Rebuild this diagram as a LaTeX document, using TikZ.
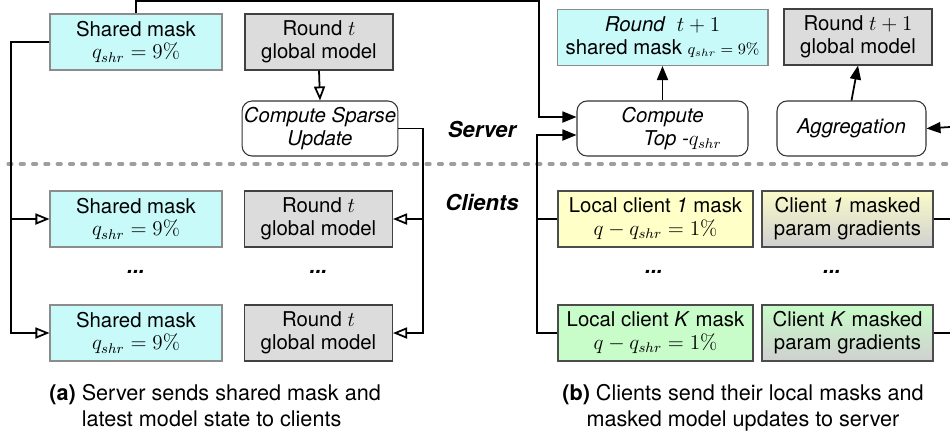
\documentclass[tikz,border=0pt]{standalone}
\usepackage[no-math]{fontspec}
\setmainfont{TeX Gyre Heros}
\usetikzlibrary{arrows.meta}
\definecolor{maskcyan}{HTML}{C8FAFA}
\definecolor{modelgray}{HTML}{DCDCDC}
\definecolor{localyellow}{HTML}{FFFFC8}
\definecolor{localgreen}{HTML}{C8FCC8}
\definecolor{gradgray}{HTML}{D0D0D0}
\begin{document}
\begin{tikzpicture}[x=0.02cm,y=-0.02cm,
    font=\fontsize{11.6}{13}\selectfont,
    box/.style={draw,line width=0.6pt,align=center,inner sep=1pt,minimum height=1.12cm},
    shared/.style={box,draw=black!45,fill=maskcyan,minimum width=3.44cm},
    model/.style={box,draw=black!75,fill=modelgray,minimum width=2.96cm},
    op/.style={box,draw=black!80,fill=white,rounded corners=0.2cm,minimum height=1.1cm,font=\fontsize{11.6}{13}\selectfont\itshape},
    localmask/.style={box,draw=black!70,minimum width=3.9cm},
    grads/.style={box,draw=black!70,minimum width=3.42cm,bottom color=gradgray},
    link/.style={line width=1pt},
    openhead/.style={link,-{Triangle[open,length=0.28cm,width=0.22cm]}},
    fullhead/.style={link,-{Triangle[length=0.28cm,width=0.22cm]}},
    side/.style={font=\fontsize{12.5}{14}\selectfont\bfseries\itshape},
    more/.style={font=\fontsize{12}{14}\selectfont\bfseries\itshape},
    caption/.style={inner sep=0pt,font=\fontsize{12.3}{14.5}\selectfont}]
    \useasboundingbox (0,0) rectangle (950,441);

    \draw[line width=1.8pt,black!38,line cap=round,dash pattern=on 0.08cm off 0.166cm] (8,164) -- (950,164);
    \node[side] (server) at (482,129) {Server};
    \node[side] (clients) at (482,202) {Clients};

    % server side, round t
    \node[shared] (sm0) at (136,42) {Shared mask\\$q_{shr}=9\%$};
    \node[model] (gm0) at (319,42) {Round $t$\\global model};
    \node[op] (csu) at (320,128.5) {Compute Sparse\\Update};

    % clients, round t
    \node[shared] (sm1) at (136,219) {Shared mask\\$q_{shr}=9\%$};
    \node[model] (gm1) at (318.5,219) {Round $t$\\global model};
    \node[more] (dots1) at (136,272) {...};
    \node[more] (dots2) at (318.5,272) {...};
    \node[shared] (sm2) at (136,333) {Shared mask\\$q_{shr}=9\%$};
    \node[model] (gm2) at (318.5,333) {Round $t$\\global model};

    \coordinate (lbus) at (11,219);
    \coordinate (mbus) at (423,219);
    \draw[openhead] (sm0.west) -| (lbus) |- (sm1.west);
    \draw[openhead] (lbus) |- (sm2.west);
    \draw[openhead] (gm0.south) -- (csu.north);
    \draw[link] (csu.east) -| (mbus);
    \draw[openhead] (mbus) -- (gm1.east);
    \draw[openhead] (mbus) |- (gm2.east);

    % server side, round t+1
    \node[op,minimum width=3.42cm] (ctop) at (662.5,128.5) {Compute\\\hspace*{0.8cm}Top -$q_{shr}$};
    \node[op,minimum width=2.98cm] (agg) at (851.5,128.5) {Aggregation};
    \node[shared,minimum width=4.22cm] (sm3) at (662.5,37.5) {\textit{Round}\ \ $t+1$\\shared mask {\small$q_{shr}=9\%$}};
    \node[model] (gm3) at (858,37) {Round $t+1$\\global model};
    \draw[fullhead] (ctop.north) -- (sm3.south);
    \draw[fullhead] (agg.north) -- (gm3.south);

    % clients, local updates
    \node[localmask,fill=localyellow] (lm1) at (655.5,219) {Local client \textit{1} mask\\$q-q_{shr}=1\%$};
    \node[grads,top color=localyellow!90!gradgray] (pg1) at (847.5,219) {Client \textit{1} masked\\param gradients};
    \node[more] (dots3) at (654,272) {...};
    \node[more] (dots4) at (832,272) {...};
    \node[localmask,fill=localgreen] (lmK) at (655.5,333) {Local client \textit{K} mask\\$q-q_{shr}=1\%$};
    \node[grads,top color=localgreen] (pgK) at (847.5,333) {Client \textit{K} masked\\param gradients};

    \coordinate (topbend) at (539,1);
    \coordinate (rbus) at (537,219);
    \coordinate (edge1) at (950,219);
    \coordinate (edgeK) at (950,333);
    \coordinate (edgeA) at (950,127);
    \draw[fullhead] (sm0.north) |- (topbend) |- ([yshift=0.23cm]ctop.west);
    \draw[link] (lmK.west) -| (rbus) -- (lm1.west);
    \draw[fullhead] (rbus) |- ([yshift=-0.13cm]ctop.west);
    \draw[link] (pg1.east) -- (edge1);
    \draw[link] (pgK.east) -- (edgeK);
    \draw[fullhead] (edgeA) -- (agg.east);

    \node[caption,anchor=base west,align=left] (capa) at (49,426) {\textbf{(a)} Server sends shared mask and\\\hphantom{\textbf{(a)} }latest model state to clients};
    \node[caption,anchor=base,align=center] (capb) at (743,426) {\textbf{(b)} Clients send their local masks and\\masked model updates to server};
\end{tikzpicture}
\end{document}
